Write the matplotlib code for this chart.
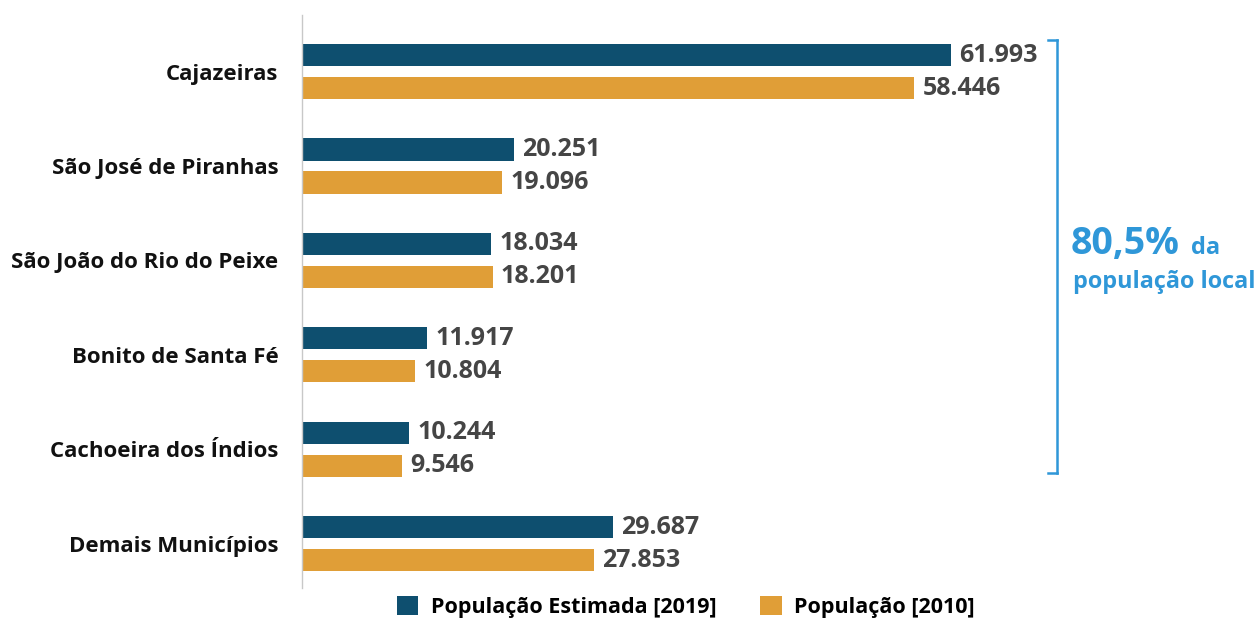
import matplotlib.pyplot as plt
import numpy as np

plt.rcParams['font.family'] = ['Open Sans', 'DejaVu Sans']

municipios = ["Cajazeiras", "São José de Piranhas", "São João do Rio do Peixe",
              "Bonito de Santa Fé", "Cachoeira dos Índios", "Demais Municípios"]
pop_2019 = [61993, 20251, 18034, 11917, 10244, 29687]
pop_2010 = [58446, 19096, 18201, 10804, 9546, 27853]

c_2019 = '#0e4f6f'
c_2010 = '#e09e37'
c_blue = '#2f97d8'

def fmt(v):
    return f"{v:,}".replace(",", ".")

fig = plt.figure(figsize=(12.6, 6.21), dpi=100)
ax = fig.add_axes([302 / 1260, 33 / 621, 733 / 1260, 573 / 621])

y = np.arange(len(municipios))
h = 0.235
off = 0.175
b1 = ax.barh(y - off, pop_2019, height=h, color=c_2019, label='População Estimada [2019]')
b2 = ax.barh(y + off, pop_2010, height=h, color=c_2010, label='População [2010]')

for bars, vals in [(b1, pop_2019), (b2, pop_2010)]:
    for bar, v in zip(bars, vals):
        ax.annotate(fmt(v), (v, bar.get_y() + bar.get_height() / 2),
                    xytext=(6, 0), textcoords='offset points', va='center', ha='left',
                    fontsize=18, fontweight='bold', color='#454545')

ax.set_xlim(0, 70000)
ax.set_ylim(len(municipios) - 1 + 0.47, -0.6)
ax.set_yticks(y)
ax.set_yticklabels(municipios, fontsize=16, fontweight='bold', color='#111111')
ax.tick_params(axis='y', length=0, pad=17)
ax.set_xticks([])
for s in ['top', 'right', 'bottom']:
    ax.spines[s].set_visible(False)
ax.spines['left'].set_color('#c8c8c8')
ax.spines['left'].set_linewidth(1)

# bracket
bx = 1057 / 1260
top = 1 - 40 / 621
bot = 1 - 473 / 621
fig.add_artist(plt.Line2D([bx, bx], [bot, top], color=c_blue, lw=1.8, transform=fig.transFigure))
fig.add_artist(plt.Line2D([bx - 9 / 1260, bx], [top, top], color=c_blue, lw=1.8, transform=fig.transFigure))
fig.add_artist(plt.Line2D([bx - 9 / 1260, bx], [bot, bot], color=c_blue, lw=1.8, transform=fig.transFigure))

fig.text(1071 / 1260, 1 - 254 / 621, "80,5%", fontsize=27, fontweight='bold',
         color=c_blue, va='baseline', ha='left')
fig.text(1191 / 1260, 1 - 254 / 621, "da", fontsize=17, fontweight='bold',
         color=c_blue, va='baseline', ha='left')
fig.text(1073 / 1260, 1 - 282 / 621, "população local", fontsize=16.8, fontweight='bold',
         color=c_blue, va='center', ha='left')

fig.legend(handles=[b1, b2], loc='center', bbox_to_anchor=(686 / 1260, 1 - 607 / 621),
           ncol=2, frameon=False, handlelength=1.0, handleheight=1.0,
           columnspacing=2.0, handletextpad=0.6,
           prop={'weight': 'bold', 'size': 15.5})

fig.savefig("out.png", dpi=100)
